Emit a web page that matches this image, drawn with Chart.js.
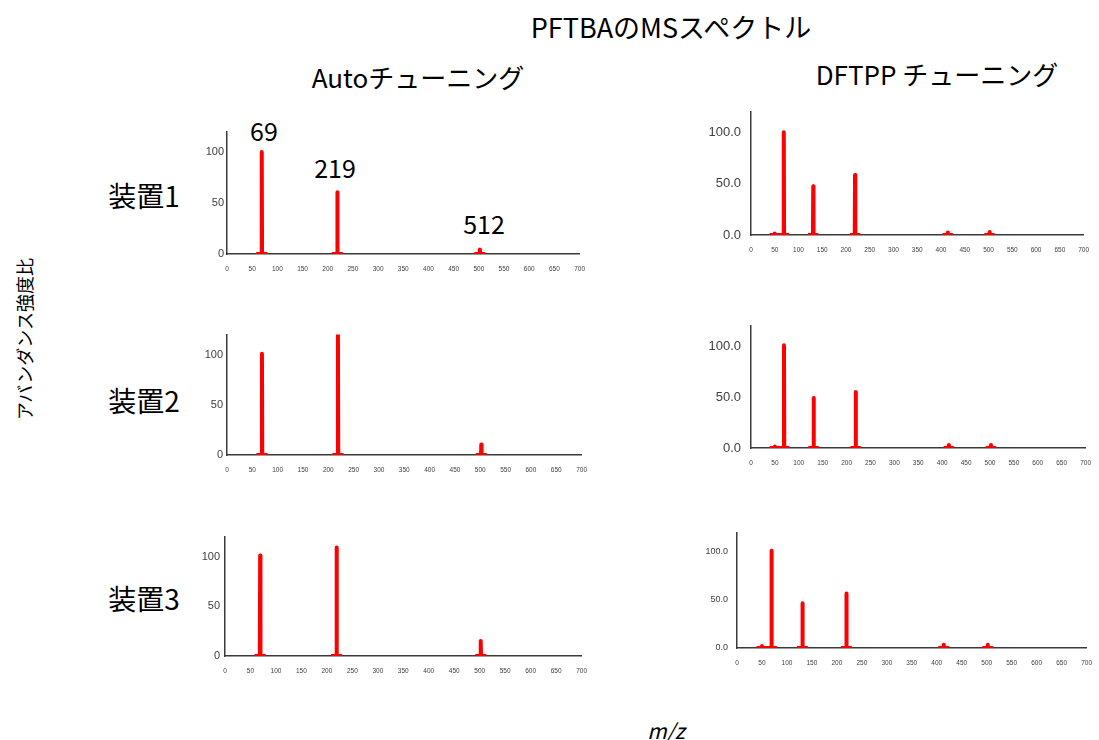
<!DOCTYPE html>
<html>
<head>
<meta charset="utf-8">
<script src="https://cdn.jsdelivr.net/npm/chart.js@4.4.0/dist/chart.umd.min.js"></script>
<style>
body { margin:0; width:1099px; height:740px; background:#fff; position:relative; overflow:hidden;
       font-family:"Noto Sans CJK JP","Noto Sans",sans-serif; color:#000; }
.lbl { position:absolute; transform:translate(-50%,-50%); white-space:nowrap; line-height:1; }
canvas { position:absolute; }
</style>
</head>
<body>
<div class="lbl" style="left:671px;top:26px;font-size:27px">PFTBAのMSスペクトル</div>
<div class="lbl" style="left:418px;top:77px;font-size:26px">Autoチューニング</div>
<div class="lbl" style="left:937px;top:74px;font-size:26px">DFTPP チューニング</div>
<div class="lbl" style="left:144px;top:195px;font-size:28px">装置1</div>
<div class="lbl" style="left:144px;top:400px;font-size:28px">装置2</div>
<div class="lbl" style="left:144px;top:598px;font-size:28px">装置3</div>
<div class="lbl" style="left:24px;top:339px;font-size:18px;transform:translate(-50%,-50%) rotate(-90deg)">アバンダンス強度比</div>
<div class="lbl" style="left:666px;top:730px;font-size:21px;font-style:italic">m/z</div>
<div class="lbl" style="left:264px;top:130px;font-size:25px">69</div>
<div class="lbl" style="left:335px;top:167px;font-size:25px">219</div>
<div class="lbl" style="left:484px;top:223px;font-size:25px">512</div>

<canvas id="c1"></canvas>
<canvas id="c2"></canvas>
<canvas id="c3"></canvas>
<canvas id="c4"></canvas>
<canvas id="c5"></canvas>
<canvas id="c6"></canvas>

<script>
// m/z of the peaks and relative intensities
const autoMz = [69, 219, 502];
const autoDev1 = [100, 60.5, 4.5];
const autoDev2 = [101, 125, 10.5];   // 219 runs off the top of the axis
const autoDev3 = [101, 109, 15];

const dftppMz = [50, 69, 131, 219, 414, 502];
const dftppDev1 = [1.5, 100, 47.5, 58.5, 2.5, 3];
const dftppDev2 = [1.5, 101, 49, 55, 3, 3];
const dftppDev3 = [2, 101, 46.5, 56.5, 3.5, 3.5];

const xTicks = { min: 0, max: 700, step: 50 };
const yTicks = { min: 0, max: 120, step: 50 };

// each peak is drawn as a thin spike on a short baseline foot
function profile(mz, vals) {
    const pts = [];
    mz.forEach((m, i) => {
        pts.push({ x: m - 11, y: 0 }, { x: m - 0.6, y: 0 }, { x: m, y: vals[i] },
                 { x: m + 0.6, y: 0 }, { x: m + 11, y: 0 }, { x: m + 11, y: null });
    });
    return pts;
}

const panels = [
    { id: 'c1', mz: autoMz, vals: autoDev1, l: 227, r: 586, t: 130, b: 254, yFont: 11, yPad: 3, dec: 0 },
    { id: 'c2', mz: dftppMz, vals: dftppDev1, l: 751, r: 1090, t: 102, b: 235, yFont: 13, yPad: 10, dec: 1 },
    { id: 'c3', mz: autoMz, vals: autoDev2, l: 227, r: 588, t: 332, b: 455, yFont: 11, yPad: 4, dec: 0 },
    { id: 'c4', mz: dftppMz, vals: dftppDev2, l: 751, r: 1092, t: 316, b: 448, yFont: 13, yPad: 10, dec: 1 },
    { id: 'c5', mz: autoMz, vals: autoDev3, l: 225, r: 588, t: 533, b: 656, yFont: 11, yPad: 5, dec: 0 },
    { id: 'c6', mz: dftppMz, vals: dftppDev3, l: 737, r: 1093, t: 526, b: 648, yFont: 9, yPad: 9, dec: 1 }
];

const yW = 45, xH = 26, padTop = 8, padRight = 10;

panels.forEach(p => {
    const cv = document.getElementById(p.id);
    cv.width = (p.r - p.l) + yW + padRight;
    cv.height = (p.b - p.t) + padTop + xH;
    cv.style.left = (p.l - yW) + 'px';
    cv.style.top = (p.t - padTop) + 'px';

    new Chart(cv.getContext('2d'), {
        type: 'line',
        data: {
            datasets: [{
                data: profile(p.mz, p.vals),
                borderColor: '#ff0000',
                borderWidth: 4,
                borderJoinStyle: 'round',
                pointRadius: 0,
                tension: 0,
                spanGaps: false
            }]
        },
        options: {
            responsive: false,
            animation: false,
            events: [],
            layout: { padding: { top: padTop, right: padRight, left: 0, bottom: 0 } },
            plugins: { legend: { display: false }, tooltip: { enabled: false } },
            scales: {
                x: {
                    type: 'linear',
                    min: xTicks.min, max: xTicks.max,
                    grid: { display: false, drawTicks: false },
                    border: { color: '#3a3a3a', width: 1.5 },
                    ticks: {
                        stepSize: xTicks.step, autoSkip: false, maxRotation: 0,
                        padding: 11, color: '#404040',
                        font: { family: 'Liberation Sans, Arial', size: 6.5 }
                    },
                    afterFit: s => { s.height = xH; }
                },
                y: {
                    min: yTicks.min, max: yTicks.max,
                    grid: { display: false, drawTicks: false },
                    border: { color: '#3a3a3a', width: 1.5 },
                    ticks: {
                        stepSize: yTicks.step, padding: p.yPad, color: '#404040',
                        font: { family: 'Liberation Sans, Arial', size: p.yFont },
                        callback: v => v.toFixed(p.dec)
                    },
                    afterBuildTicks: s => { s.ticks = s.ticks.filter(t => t.value % yTicks.step === 0); },
                    afterFit: s => { s.width = yW; }
                }
            }
        }
    });
});
</script>
</body>
</html>
